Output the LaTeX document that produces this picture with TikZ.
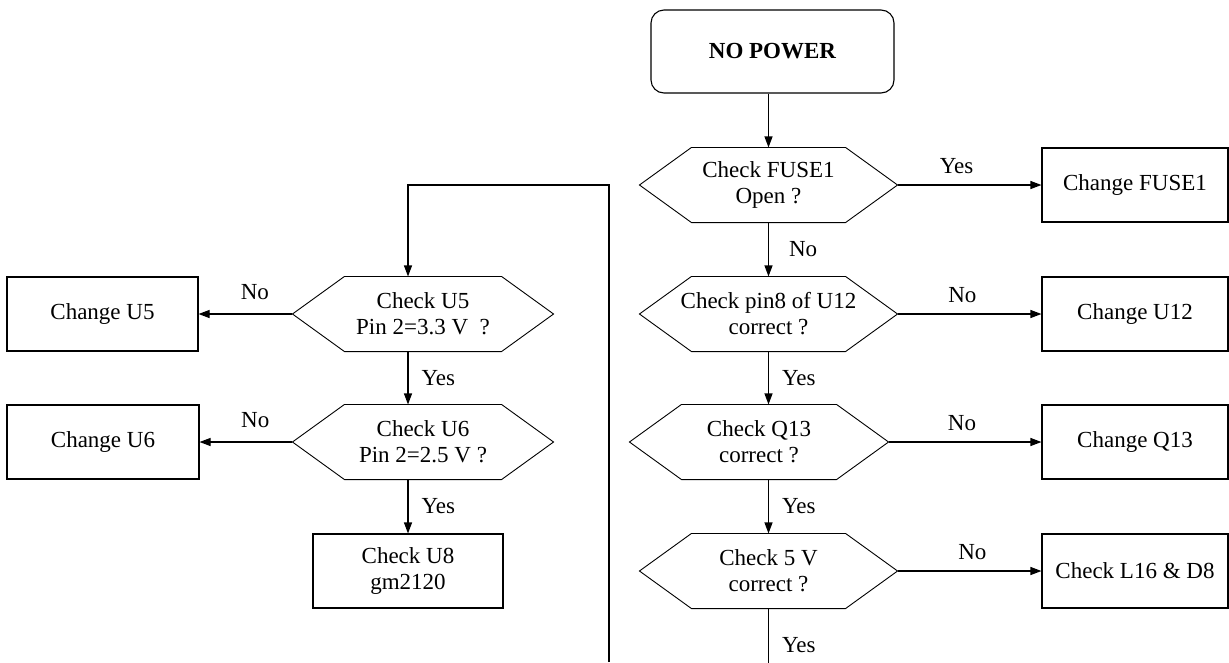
\documentclass[tikz,border=0pt]{standalone}
\usepackage{fontspec}
\setmainfont{Liberation Serif}
\usetikzlibrary{arrows.meta}
\usetikzlibrary{calc}

\begin{document}
\begin{tikzpicture}[x=1pt, y=-1pt, line width=1.1pt, font=\fontsize{23}{26}\selectfont,
	pfeil/.style={-{Triangle[length=11pt,width=8pt]}},
	kasten/.style={draw, rectangle, minimum height=74pt, align=center, inner sep=0pt},
	frage/.style={rectangle, minimum width=257pt, minimum height=74pt, align=center, inner sep=0pt},
	lbl/.style={inner sep=0pt}]

	\useasboundingbox (0,0) rectangle (1229,662);

	% Start
	\node[draw, rounded corners=13pt, minimum width=243pt, minimum height=83pt, font=\fontsize{23}{26}\selectfont\bfseries] (S) at (772.5,51.5) {NO POWER};

	% rechte Spalte
	\node[frage] (F1) at (768.5,185) {Check FUSE1\\Open ?};
	\node[frage] (F2) at (768.5,314) {Check pin8 of U12\\correct ?};
	\node[frage, minimum width=258pt] (F3) at (759,442) {Check Q13\\correct ?};
	\node[frage] (F4) at (768.5,571) {Check 5 V\\correct ?};

	\node[kasten, minimum width=186pt] (A1) at (1135,185) {Change FUSE1};
	\node[kasten, minimum width=186pt] (A2) at (1135,314) {Change U12};
	\node[kasten, minimum width=186pt] (A3) at (1135,442) {Change Q13};
	\node[kasten, minimum width=186pt] (A4) at (1135,571) {Check L16 \& D8};

	% linke Spalte
	\node[frage, minimum width=260pt] (L1) at (423,314) {Check U5\\Pin 2=3.3 V\ \ ?};
	\node[frage, minimum width=260pt] (L2) at (423,442) {Check U6\\Pin 2=2.5 V ?};

	\node[kasten, minimum width=191pt] (B1) at (102.5,314) {Change U5};
	\node[kasten, minimum width=192pt] (B2) at (103,442) {Change U6};
	\node[kasten, minimum width=190pt] (C) at (408,571) {Check U8\\gm2120};

	% Sechsecke
	\foreach \n in {F1,F2,F3,F4,L1,L2}
		\draw[line width=0.9pt] (\n.west) -- ([xshift=52pt]\n.north west) -- ([xshift=-52pt]\n.north east)
			-- (\n.east) -- ([xshift=-52pt]\n.south east) -- ([xshift=52pt]\n.south west) -- cycle;

	% Pfeile rechts
	\draw[pfeil] (S.south -| F1.north) -- (F1.north);
	\draw[pfeil] (F1) -- node[lbl, right, xshift=20pt] {No} (F2);
	\draw[pfeil] (F2.south) -- node[lbl, right, xshift=13pt] {Yes} (F2.south |- F3.north);
	\draw[pfeil] (F4.north |- F3.south) -- node[lbl, right, xshift=13pt] {Yes} (F4.north);
	\coordinate (E1) at ($(F4.south)+(0,54)$);
	\draw (F4.south) -- node[lbl, right, xshift=13pt, pos=0.68] {Yes} (E1);

	\draw[pfeil] (F1) -- node[lbl, above=11pt, pos=0.41] {Yes} (A1);
	\draw[pfeil] (F2) -- node[lbl, above=11pt, pos=0.45] {No} (A2);
	\draw[pfeil] (F3) -- node[lbl, above=11pt, pos=0.48] {No} (A3);
	\draw[pfeil] (F4) -- node[lbl, above=11pt, pos=0.52] {No} (A4);

	% Pfeile links
	\draw[pfeil] (L1) -- node[lbl, above=14pt, pos=0.4] {No} (B1);
	\draw[pfeil] (L2) -- node[lbl, above=14pt, pos=0.4] {No} (B2);
	\draw[pfeil] (L1.south -| C) -- node[lbl, right, xshift=13pt] {Yes} (C |- L2.north);
	\draw[pfeil] (L2.south -| C) -- node[lbl, right, xshift=13pt] {Yes} (C);

	% Rueckfuehrung
	\coordinate (R) at (609,662);
	\draw[pfeil] (R) |- (C |- F1) -- (C |- L1.north);

\end{tikzpicture}
\end{document}
